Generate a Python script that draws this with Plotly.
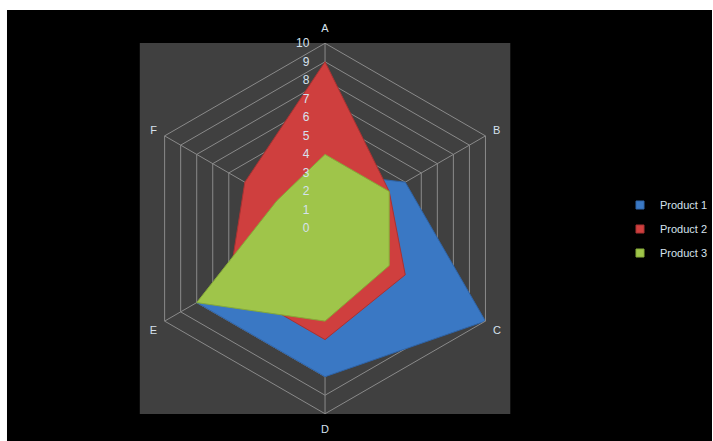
import plotly.graph_objects as go

categories = ["A", "B", "C", "D", "E", "F"]
product1 = [3, 5, 10, 8, 8, 2]
product2 = [9, 4, 5, 6, 6, 5]
product3 = [4, 4, 4, 5, 8, 3]
series_names = ["Product 1", "Product 2", "Product 3"]
radial_ticks = [0, 1, 2, 3, 4, 5, 6, 7, 8, 9, 10]

W, H = 713, 441
fill_colors = ["#3a78c4", "#cf3f3e", "#9fc54a"]
line_colors = ["#2f64a8", "#a83232", "#86aa38"]
text_color = "#d6e2ee"
FONT = "Liberation Sans"
FIG_SP = "\u2007"

fig = go.Figure()
for i, (name, vals) in enumerate(zip(series_names, [product1, product2, product3])):
    fig.add_trace(go.Scatterpolar(
        r=vals + vals[:1],
        theta=categories + categories[:1],
        mode="lines",
        fill="toself",
        fillcolor=fill_colors[i],
        line=dict(color=line_colors[i], width=1),
        name=name,
        showlegend=False,
    ))
for i, name in enumerate(series_names):
    fig.add_trace(go.Scatterpolar(
        r=[None], theta=[None],
        mode="markers",
        marker=dict(symbol="square", size=8, color=fill_colors[i],
                    line=dict(color=line_colors[i], width=1)),
        name=name,
        legend="legend" if i == 0 else f"legend{i+1}",
        showlegend=True,
    ))

def px(x):
    return x / W

def py(y):
    return 1 - y / H

shapes = [
    dict(type="rect", xref="paper", yref="paper", x0=px(7), x1=1, y0=0, y1=py(10),
         fillcolor="black", line=dict(width=0), layer="below"),
    dict(type="rect", xref="paper", yref="paper", x0=px(140), x1=px(511), y0=py(414), y1=py(43),
         fillcolor="#404040", line=dict(width=0), layer="below"),
]

legend_common = dict(
    bgcolor="rgba(0,0,0,0)",
    font=dict(family=FONT, size=11, color=text_color),
    xanchor="left", yanchor="middle",
    itemwidth=30,
)
legend_y = [205, 229, 253]

tick_text = [FIG_SP * (2 - len(str(t))) + str(t) + FIG_SP * 2 for t in radial_ticks]

fig.update_layout(
    width=W, height=H,
    margin=dict(l=0, r=0, t=0, b=0),
    paper_bgcolor="white",
    shapes=shapes,
    polar=dict(
        domain=dict(x=[px(140), px(511)], y=[py(414), py(43)]),
        bgcolor="#404040",
        gridshape="linear",
        radialaxis=dict(
            range=[0, 10],
            tickvals=radial_ticks,
            ticktext=tick_text,
            angle=90,
            side="counterclockwise",
            showline=False,
            gridcolor="#8a8a8a",
            gridwidth=1,
            ticks="",
            tickfont=dict(family=FONT, size=12, color=text_color),
            tickangle=90,
        ),
        angularaxis=dict(
            direction="clockwise",
            rotation=90,
            showline=True,
            linecolor="#8a8a8a",
            gridcolor="#8a8a8a",
            ticks="outside",
            ticklen=6,
            tickcolor="rgba(0,0,0,0)",
            tickfont=dict(family=FONT, size=11, color=text_color),
        ),
    ),
    legend=dict(x=px(621), y=py(legend_y[0]), **legend_common),
    legend2=dict(x=px(621), y=py(legend_y[1]), **legend_common),
    legend3=dict(x=px(621), y=py(legend_y[2]), **legend_common),
)

fig.write_html("out.html")
